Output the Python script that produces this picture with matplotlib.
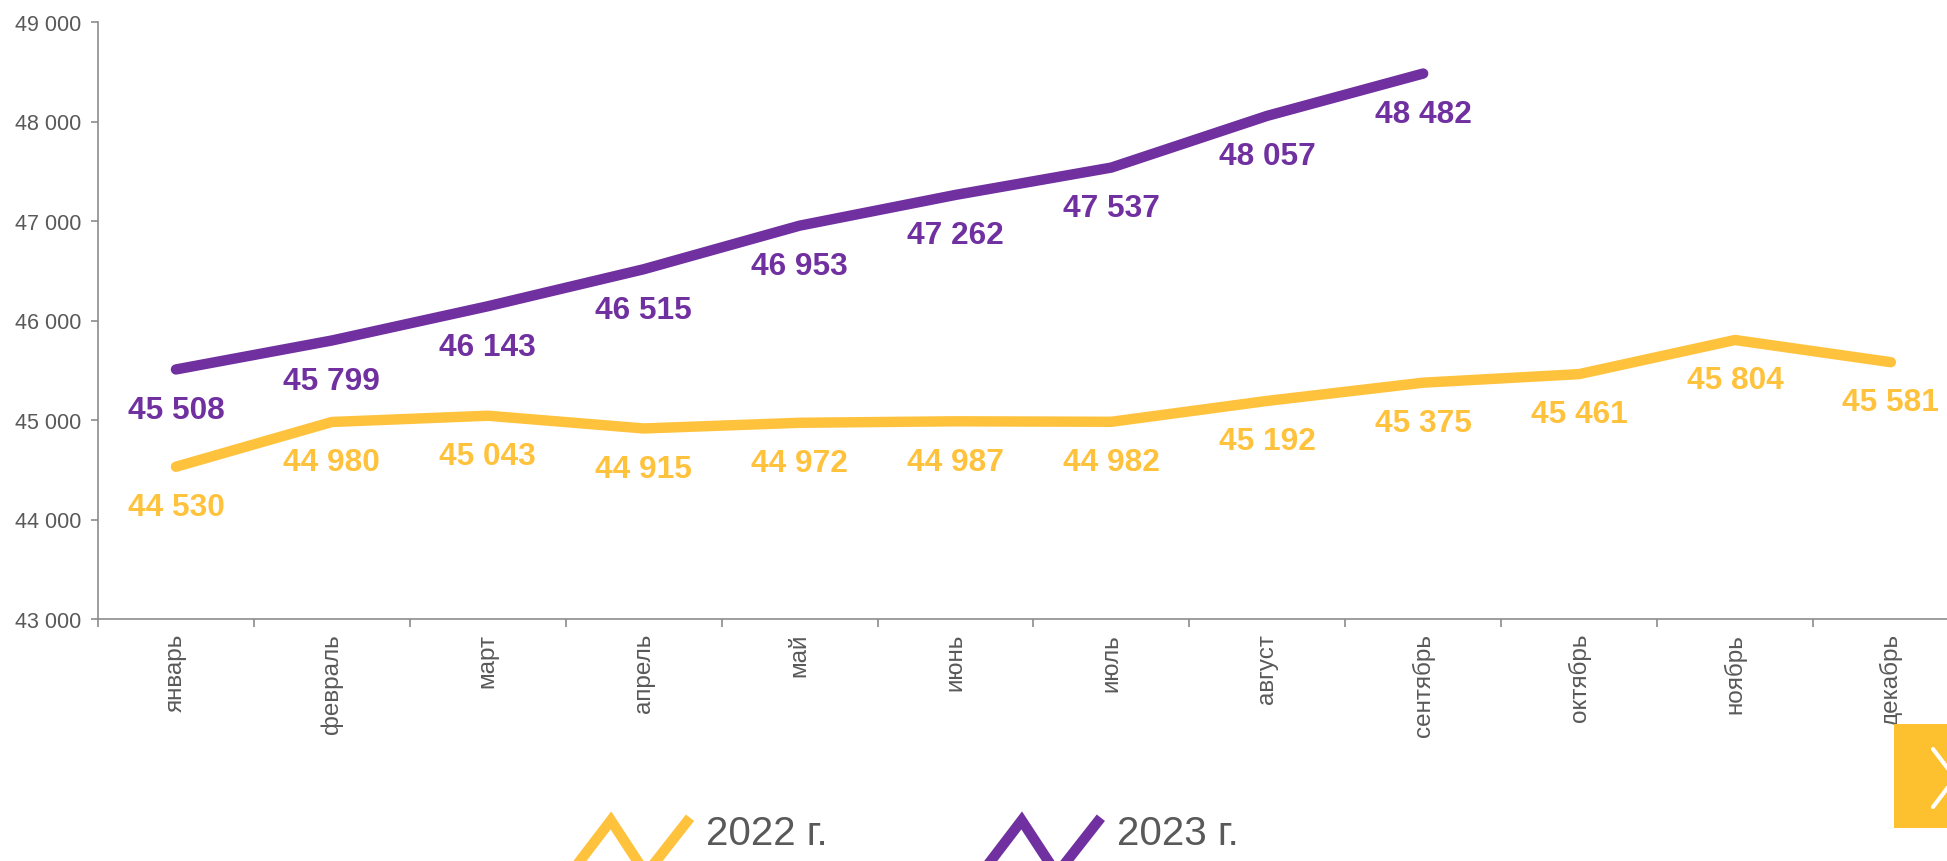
import matplotlib.pyplot as plt
from matplotlib.legend_handler import HandlerBase
from matplotlib.lines import Line2D
from matplotlib.patches import Rectangle
from matplotlib.ticker import FuncFormatter, FixedLocator

plt.rcParams['font.family'] = ['Liberation Sans', 'DejaVu Sans']

months = ['январь', 'февраль', 'март', 'апрель', 'май', 'июнь',
          'июль', 'август', 'сентябрь', 'октябрь', 'ноябрь', 'декабрь']
values_2022 = [44530, 44980, 45043, 44915, 44972, 44987,
               44982, 45192, 45375, 45461, 45804, 45581]
values_2023 = [45508, 45799, 46143, 46515, 46953, 47262,
               47537, 48057, 48482]
series_names = ['2022 г.', '2023 г.']

yellow = '#FFC23C'
purple = '#7030A0'
gray_text = '#595959'
gray_axis = '#8C8C8C'


def fmt(v, pos=None):
    return f'{int(v):,}'.replace(',', ' ')


class ZigZagHandler(HandlerBase):
    # legend icon drawn as a zigzag that runs off the bottom of the figure
    def create_artists(self, legend, orig_handle, xdescent, ydescent,
                       width, height, fontsize, trans):
        top = -ydescent + height * 0.85
        bot = top - height * 1.9
        xs = [-xdescent + width * f for f in (0, 0.35, 0.65, 1)]
        ys = [bot, top, bot, top - height * 0.05]
        line = Line2D(xs, ys, color=orig_handle.get_color(),
                      lw=orig_handle.get_linewidth(), transform=trans,
                      solid_joinstyle='miter')
        return [line]


fig = plt.figure(figsize=(19.47, 8.62), dpi=100)
ax = fig.add_axes([98 / 1947, 1 - 620 / 862, 12 * 155.9 / 1947, (620 - 23) / 862])

x22 = list(range(len(values_2022)))
x23 = list(range(len(values_2023)))
l22, = ax.plot(x22, values_2022, color=yellow, lw=7.5, solid_capstyle='round')
l23, = ax.plot(x23, values_2023, color=purple, lw=7.5, solid_capstyle='round')

for xs, vals, col in [(x22, values_2022, yellow), (x23, values_2023, purple)]:
    for xi, v in zip(xs, vals):
        ax.annotate(fmt(v), (xi, v), xytext=(0, -29), textcoords='offset points',
                    ha='center', va='center', fontsize=22.8, fontweight='bold',
                    color=col)

ax.set_xlim(-0.5, 11.5)
ax.set_ylim(43000, 49000)
ax.set_yticks(range(43000, 49001, 1000))
ax.yaxis.set_major_formatter(FuncFormatter(fmt))

ax.set_xticks(x22)
ax.set_xticklabels(months, rotation=90, va='top', ha='center')
ax.xaxis.set_minor_locator(FixedLocator([i - 0.5 for i in range(13)]))
ax.tick_params(axis='x', which='major', length=0, pad=10,
               labelsize=17.5, labelcolor=gray_text)
ax.tick_params(axis='x', which='minor', length=6, width=1.2, color=gray_axis)
ax.tick_params(axis='y', length=5, width=1.2, color=gray_axis, pad=7,
               labelsize=15.5, labelcolor=gray_text)

for side in ['top', 'right']:
    ax.spines[side].set_visible(False)
for side in ['left', 'bottom']:
    ax.spines[side].set_color(gray_axis)
    ax.spines[side].set_linewidth(1.2)

leg = fig.legend([l22, l23], series_names, loc='lower left',
                 bbox_to_anchor=(570 / 1947, 0.010), ncol=2, frameon=False,
                 handler_map={Line2D: ZigZagHandler()},
                 fontsize=29, handlelength=2.9, handleheight=0.7,
                 handletextpad=0.48, columnspacing=3.8,
                 borderpad=0, borderaxespad=0)
for t in leg.get_texts():
    t.set_color(gray_text)

# navigation button in the lower right corner
fig.add_artist(Rectangle((1894 / 1947, 1 - 829 / 862), 60 / 1947, 104 / 862,
                         transform=fig.transFigure, color='#FDC02F', lw=0))
fig.add_artist(Line2D([1933 / 1947, 1955 / 1947, 1933 / 1947],
                      [1 - 750 / 862, 1 - 779 / 862, 1 - 808 / 862],
                      transform=fig.transFigure, color='white', lw=3,
                      solid_capstyle='round'))

fig.savefig('out.png', dpi=100)
